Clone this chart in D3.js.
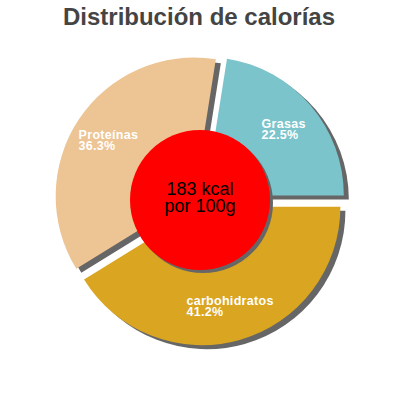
<!DOCTYPE html>
<html><head><meta charset="utf-8">
<script src="https://cdn.jsdelivr.net/npm/d3@7"></script>
<style>html,body{margin:0;padding:0;background:#fff;}svg{display:block;}</style>
</head><body>
<svg id="c" width="400" height="400"></svg>
<script>
const title = "Distribución de calorías";
const categories = ["Grasas", "carbohidratos", "Proteínas"];
const values = [22.5, 41.2, 36.3];
const colors = ["#7bc4cc", "#daa520", "#edc493"];
const centerLines = ["183 kcal", "por 100g"];

const svg = d3.select("#c");
const cx = 200, cy = 200, R = 138.5, explode = 7, holeR = 70, labelR = 103;
const sum = d3.sum(values);
const start = Math.PI / 2 - 2 * Math.PI * values[0] / sum;

const pie = d3.pie().sort(null).value(d => d.v).startAngle(start).endAngle(start + 2 * Math.PI);
const arcs = pie(categories.map((c, i) => ({c, v: values[i], col: colors[i]})));
const arc = d3.arc().innerRadius(0).outerRadius(R);
const off = d => {
  const a = (d.startAngle + d.endAngle) / 2;
  return [cx + explode * Math.sin(a), cy - explode * Math.cos(a), a];
};

svg.append("text").attr("x", 199).attr("y", 25).attr("text-anchor", "middle")
  .attr("font-family", "Liberation Sans, Arial, sans-serif").attr("font-weight", "bold")
  .attr("font-size", 24).attr("fill", "#444").text(title);

const shadows = svg.append("g");
shadows.selectAll("path").data(arcs).join("path")
  .attr("transform", d => { const o = off(d); return `translate(${o[0] + 5},${o[1] + 4})`; })
  .attr("d", arc).attr("fill", "#666");

svg.append("g").selectAll("path").data(arcs).join("path")
  .attr("transform", d => { const o = off(d); return `translate(${o[0]},${o[1]})`; })
  .attr("d", arc).attr("fill", d => d.data.col);

svg.append("circle").attr("cx", cx + 3).attr("cy", cy + 3).attr("r", holeR).attr("fill", "#666");
svg.append("circle").attr("cx", cx).attr("cy", cy).attr("r", holeR).attr("fill", "#ff0000");

const ct = svg.append("text").attr("text-anchor", "middle")
  .attr("font-family", "Liberation Sans, Arial, sans-serif").attr("font-size", 18).attr("fill", "#000");
centerLines.forEach((t, i) => ct.append("tspan").attr("x", cx).attr("y", 195 + i * 17).text(t));

const lg = svg.append("g");
arcs.forEach(d => {
  const o = off(d);
  const mx = o[0] + labelR * Math.sin(o[2]);
  const my = o[1] - labelR * Math.cos(o[2]);
  const t = lg.append("text").attr("font-family", "Liberation Sans, Arial, sans-serif")
    .attr("font-weight", "bold").attr("font-size", 12.5).attr("letter-spacing", 0.3).attr("fill", "#fff");
  const l1 = t.append("tspan").attr("y", my - 0.5).text(d.data.c);
  const l2 = t.append("tspan").attr("y", my + 10.5).text(d.data.v.toFixed(1) + "%");
  const w = Math.max(l1.node().getComputedTextLength(), l2.node().getComputedTextLength());
  l1.attr("x", mx - w / 2); l2.attr("x", mx - w / 2);
});
</script>
</body></html>
